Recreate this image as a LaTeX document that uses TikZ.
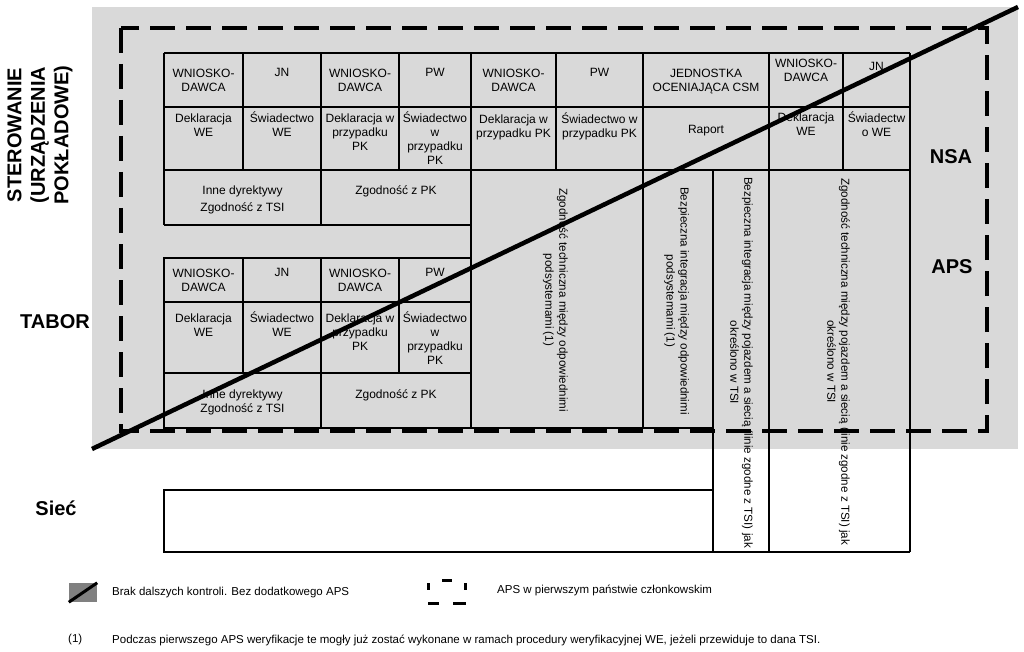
\documentclass[tikz,border=0pt]{standalone}
\usepackage{fontspec}
\setmainfont{Liberation Sans}
\definecolor{bggray}{RGB}{217,217,217}
\definecolor{keygray}{RGB}{128,128,128}
\tikzset{
  cell/.style={font=\fontsize{12}{14}\selectfont, align=center, anchor=north, inner sep=0pt},
  vcell/.style={font=\fontsize{11.6}{14}\selectfont, align=center, rotate=-90, anchor=west, inner sep=0pt},
  side/.style={font=\fontsize{20}{23.5}\selectfont\bfseries, align=center, inner sep=0pt},
  gridline/.style={line width=1.4pt},
  apsbox/.style={line width=3.5pt, dash pattern=on 25pt off 11pt},
  noaps/.style={line width=4.5pt},
  keytext/.style={font=\fontsize{11.5}{14}\selectfont, anchor=west, inner sep=0pt}
}
\begin{document}
\begin{tikzpicture}[x=1pt, y=-1pt]
    \useasboundingbox (0,0) rectangle (1024,652);
    \coordinate (bl) at (92,449);
    \coordinate (tr) at (1018,7);
    \fill[bggray] (bl) rectangle (tr);

    % sterowanie
    \draw[gridline] (164,53) -- (910,53) (164,107) -- (910,107) (164,170) -- (910,170) (164,225) -- (471,225);
    \draw[gridline] (164,53) -- (164,225) (321,53) -- (321,225) (243,53) -- (243,170) (399,53) -- (399,170) (556,53) -- (556,170) (843,53) -- (843,170);
    \draw[gridline] (471,53) -- (471,428) (643,53) -- (643,428) (713,170) -- (713,552) (769,53) -- (769,552) (910,53) -- (910,552);
    % tabor
    \draw[gridline] (164,258) rectangle (471,428) (164,302) -- (471,302) (164,373) -- (471,373);
    \draw[gridline] (243,258) -- (243,373) (399,258) -- (399,373) (321,258) -- (321,428);
    \draw[gridline] (471,428) -- (713,428) (713,552) -- (910,552);
    % siec
    \draw[gridline] (164,490) rectangle (713,552);

    \node[cell] (s1) at (203.5,68.5) {WNIOSKO-\\DAWCA};
    \node[cell] (s2) at (282,68.5) {JN};
    \node[cell] (s3) at (360,68.5) {WNIOSKO-\\DAWCA};
    \node[cell] (s4) at (435,68.5) {PW};
    \node[cell] (s5) at (513.5,68.5) {WNIOSKO-\\DAWCA};
    \node[cell] (s6) at (599.5,68.5) {PW};
    \node[cell] (s7) at (706,68.5) {JEDNOSTKA\\OCENIAJĄCA CSM};
    \node[cell] (s8) at (806,58.5) {WNIOSKO-\\DAWCA};
    \node[cell] (s9) at (876.5,62.5) {JN};

    \node[cell] (d1) at (203.5,113.5) {Deklaracja\\WE};
    \node[cell] (d2) at (282,111.5) {Świadectwo\\WE};
    \node[cell] (d3) at (360,113.5) {Deklaracja w\\przypadku\\PK};
    \node[cell] (d4) at (435,111.5) {Świadectwo\\w\\przypadku\\PK};
    \node[cell] (d5) at (513.5,114.5) {Deklaracja w\\przypadku PK};
    \node[cell] (d6) at (599.5,112.5) {Świadectwo w\\przypadku PK};
    \node[cell] (d7) at (706,125.5) {Raport};
    \node[cell] (d8) at (806,112.5) {Deklaracja\\WE};
    \node[cell] (d9) at (876.5,111.5) {Świadectw\\o WE};

    \node[cell] (z1) at (242.5,185.5) {Inne dyrektywy\\[3.5pt]Zgodność z TSI};
    \node[cell] (z2) at (396,185.5) {Zgodność z PK};

    \node[cell] (t1) at (203.5,268.5) {WNIOSKO-\\DAWCA};
    \node[cell] (t2) at (282,268.5) {JN};
    \node[cell] (t3) at (360,268.5) {WNIOSKO-\\DAWCA};
    \node[cell] (t4) at (435,268.5) {PW};
    \node[cell] (u1) at (203.5,313.5) {Deklaracja\\WE};
    \node[cell] (u2) at (282,311.5) {Świadectwo\\WE};
    \node[cell] (u3) at (360,313.5) {Deklaracja w\\przypadku\\PK};
    \node[cell] (u4) at (435,311.5) {Świadectwo\\w\\przypadku\\PK};
    \node[cell] (w1) at (242.5,389.5) {Inne dyrektywy\\Zgodność z TSI};
    \node[cell] (w2) at (396,389.5) {Zgodność z PK};

    \node[vcell] (v1) at (555.5,188) {Zgodność techniczna między odpowiednimi\\podsystemami (1)};
    \node[vcell] (v2) at (676.5,187) {Bezpieczna integracja między odpowiednimi\\podsystemami (1)};
    \node[vcell] (v3) at (741.5,177) {Bezpieczna integracja między pojazdem a siecią (linie zgodne z TSI) jak\\określono w TSI};
    \node[vcell] (v4) at (838.5,178) {Zgodność techniczna między pojazdem a siecią (linie zgodne z TSI) jak\\określono w TSI};

    \node[side, rotate=90] (ster) at (40,135) {STEROWANIE\\(URZĄDZENIA\\POKŁADOWE)};
    \node[side] (tabor) at (55,322) {TABOR};
    \node[side] (siec) at (56,508) {Sieć};
    \node[side] (nsa) at (951,157) {NSA};
    \node[side] (aps) at (952,267) {APS};

    \draw[apsbox] (121,28) rectangle (987,431);
    \draw[noaps] (bl) -- (tr);

    % legenda
    \node[fill=keygray, minimum width=28pt, minimum height=19pt, inner sep=0pt] (key1) at (83,592.5) {};
    \draw[line width=3pt] (key1.south west) -- (key1.north east);
    \node[keytext] (key1txt) at (112,593) {Brak dalszych kontroli. Bez dodatkowego APS};
    \draw[line width=3pt] (442,580.5) -- (452,580.5) (428,583) -- (428,590) (465,583) -- (465,590) (428,603) -- (439,603) (453,603) -- (466,603);
    \node[keytext] (key2txt) at (497,590) {APS w pierwszym państwie członkowskim};
    \node[keytext] (fn) at (68,640) {(1)};
    \node[keytext] (fntxt) at (112,640) {Podczas pierwszego APS weryfikacje te mogły już zostać wykonane w ramach procedury weryfikacyjnej WE, jeżeli przewiduje to dana TSI.};
\end{tikzpicture}
\end{document}
